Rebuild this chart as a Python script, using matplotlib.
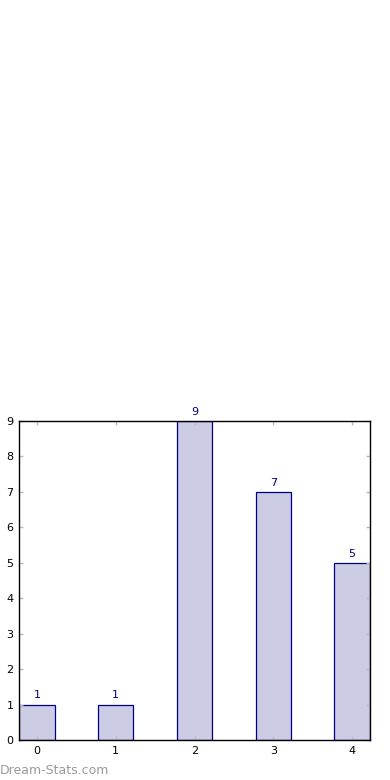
import matplotlib
matplotlib.use('Agg')
import matplotlib.pyplot as plt

categories = [0, 1, 2, 3, 4]
counts = [1, 1, 9, 7, 5]
yticks = list(range(0, 10))

fig = plt.figure(figsize=(3.9, 7.8), dpi=100)
ax = fig.add_axes([19/390, 40/780, 351/390, 319/780])

ax.bar(categories, counts, width=0.45, color='#ccccE5', edgecolor='#000080', linewidth=0.9)
for x, v in zip(categories, counts):
    ax.text(x, v + 0.12, str(v), ha='center', va='bottom', color='#000080', fontsize=8)

ax.set_xlim(-0.228, 4.228)
ax.set_ylim(0, 9)
ax.set_xticks(categories)
ax.set_yticks(yticks)
ax.tick_params(direction='in', length=3, width=1, color='#bbbbbb', labelsize=8,
               top=True, right=True, pad=4)
for s in ax.spines.values():
    s.set_linewidth(1)

fig.text(0.0, 0.004, 'Dream-Stats.com', color='#999999', fontsize=9,
         ha='left', va='bottom')

fig.savefig('out.png', dpi=100)
